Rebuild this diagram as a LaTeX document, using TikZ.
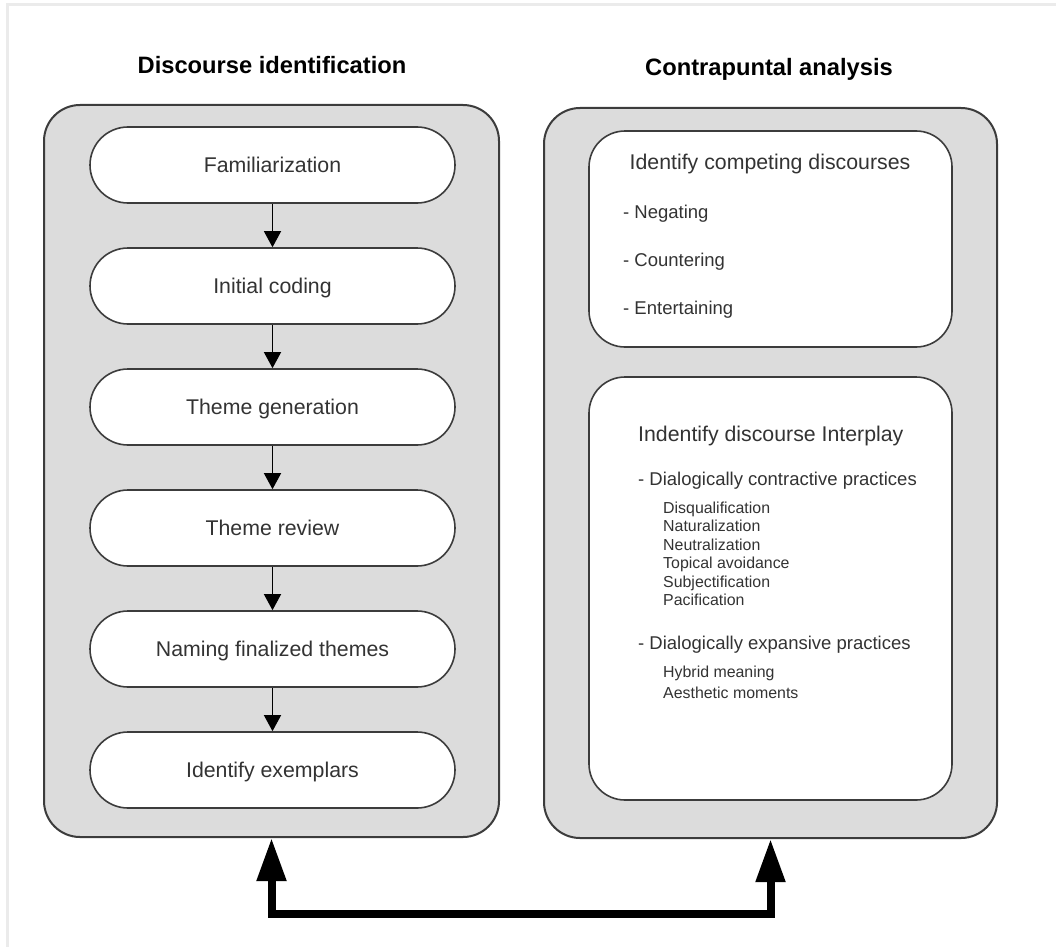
\documentclass[tikz,border=0pt]{standalone}
\usepackage{fontspec}
\setmainfont{Liberation Sans}
\usetikzlibrary{arrows.meta}
\definecolor{panelgray}{HTML}{DCDCDC}
\definecolor{edgegray}{HTML}{3C3C3C}
\definecolor{textgray}{HTML}{333333}
\definecolor{framegray}{HTML}{EBEBEB}
\tikzset{
  panel/.style={draw=edgegray, line width=2pt, fill=panelgray, rounded corners=36pt,
    minimum width=455pt, inner sep=0pt},
  stepbox/.style={draw=edgegray, line width=1.6pt, fill=white, rounded corners=38pt,
    minimum width=365pt, minimum height=76pt, inner sep=0pt, text height=15pt,
    text depth=0pt, text=textgray, font=\fontsize{21.3}{25}\selectfont},
  listbox/.style={draw=edgegray, line width=1.6pt, fill=white, rounded corners=36pt,
    minimum width=363pt, inner sep=0pt},
  title/.style={anchor=base, inner sep=0pt, font=\bfseries\fontsize{23.7}{28}\selectfont},
  head/.style={anchor=base west, inner sep=0pt, text=textgray, font=\fontsize{21.3}{25}\selectfont},
  item/.style={anchor=base west, inner sep=0pt, text=textgray, font=\fontsize{18.5}{22}\selectfont},
  subitem/.style={anchor=base west, inner sep=0pt, text=textgray, font=\fontsize{15.9}{19}\selectfont},
}
\begin{document}
\begin{tikzpicture}[x=1pt, y=-1pt, >=Triangle]
  \useasboundingbox (0,0) rectangle (1056,947);
  % frame
  \draw[framegray, line width=3pt] (7,947) -- (7,5) -- (1056,5);
  % panels
  \node[panel, minimum height=732pt] (left) at (271.5,471) {};
  \node[panel, minimum width=453pt, minimum height=730pt] (right) at (770.5,473) {};
  % titles
  \node[title] (ltitle) at (272,74) {Discourse identification};
  \node[title] (rtitle) at (769,76) {Contrapuntal analysis};
  % steps
  \foreach \s [count=\i] in {Familiarization, Initial coding, Theme generation,
      Theme review, Naming finalized themes, Identify exemplars}
    \node[stepbox] (s\i) at (272.5,{44+121*\i}) {\s};
  \foreach \i in {1,...,5} {
    \pgfmathtruncatemacro{\j}{\i+1}
    \draw[-{Triangle[length=16pt,width=17pt]}, line width=1.3pt] (s\i) -- (s\j);
  }
  % competing discourses
  \node[listbox, minimum height=216pt] (compete) at (770.5,239) {};
  \node[head, anchor=base] (h1) at (770,169) {Identify competing discourses};
  \foreach \t [count=\i] in {Negating, Countering, Entertaining}
    \node[item] (c\i) at (623,{170+48*\i}) {- \t};
  % interplay
  \node[listbox, minimum height=423pt] (interplay) at (770.5,588.5) {};
  \node[head] (h2) at (638,441) {Indentify discourse Interplay};
  \node[item] (d1) at (638,485) {- Dialogically contractive practices};
  \foreach \t [count=\i] in {Disqualification, Naturalization, Neutralization,
      Topical avoidance, Subjectification, Pacification}
    \node[subitem] (p\i) at (663,{494.5+18.5*\i}) {\t};
  \node[item] (d2) at (638,649) {- Dialogically expansive practices};
  \node[subitem] (e1) at (663,677) {Hybrid meaning};
  \node[subitem] (e2) at (663,698) {Aesthetic moments};
  % loop between panels
  \draw[<->, line width=8pt, >={Triangle[length=43pt,width=28pt]}]
    (left.south) -- ++(0,76) -| (right.south);
\end{tikzpicture}
\end{document}
